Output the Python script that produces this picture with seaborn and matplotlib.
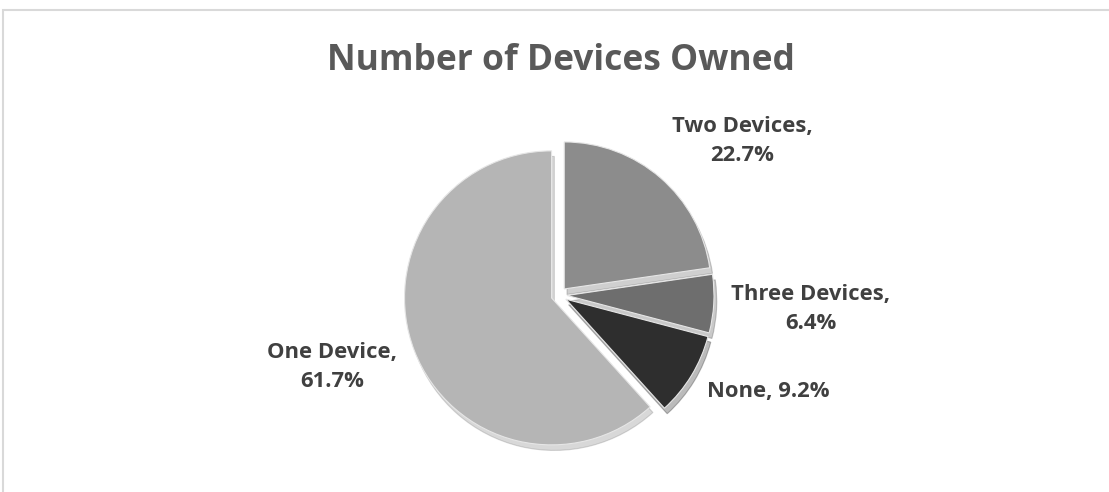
import matplotlib
matplotlib.use("Agg")
import matplotlib.pyplot as plt
import seaborn as sns
from matplotlib.patches import Rectangle

sns.set_theme(style="white")
plt.rcParams['font.family'] = ['Open Sans', 'DejaVu Sans']

# Data (clockwise from 12 o'clock)
categories = ["Two Devices", "Three Devices", "None", "One Device"]
shares = [22.7, 6.4, 9.2, 61.7]
colors = ["#8c8c8c", "#6e6e6e", "#2e2e2e", "#b5b5b5"]
label_texts = ["Two Devices,\n22.7%", "Three Devices,\n6.4%", "None, 9.2%", "One Device,\n61.7%"]
title = "Number of Devices Owned"

W, H = 1109, 492
fig = plt.figure(figsize=(W / 100, H / 100), dpi=100)
fig.patch.set_facecolor("white")
ax = fig.add_axes([0, 0, 1, 1])

# chart frame
fig.patches.append(Rectangle((3 / W, -0.1), 1.2, (H - 10) / H + 0.1,
                             transform=fig.transFigure, fill=False,
                             edgecolor="#d9d9d9", linewidth=1.5))

cx, cy, R = 559, H - 295, 147
wedges, _ = ax.pie(shares, colors=colors, startangle=90, counterclock=False,
                   center=(cx, cy), radius=R, explode=[8] * 4,
                   wedgeprops=dict(edgecolor="#e6e6e6", linewidth=0.8),
                   shadow=dict(ox=2, oy=-4, shade=0.3, alpha=0.3))
ax.set_xlim(0, W)
ax.set_ylim(0, H)
ax.set_aspect("equal")
ax.axis("off")

label_pos = [(742, H - 141), (811, H - 309), (768, H - 391), (332, H - 367)]
for (x, y), t in zip(label_pos, label_texts):
    ax.text(x, y, t, ha="center", va="center", fontsize=15.8, fontweight="bold",
            color="#404040", linespacing=1.5)

ax.text(561, H - 61, title, ha="center", va="center", fontsize=25.5,
        fontweight="bold", color="#595959")

fig.savefig("out.png", dpi=100, facecolor="white")
